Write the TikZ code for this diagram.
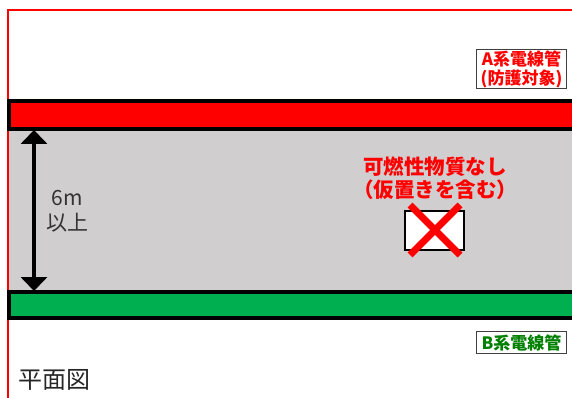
\documentclass[tikz,border=0pt]{standalone}
\usepackage{fontspec}
\setmainfont{Noto Sans CJK JP}
\usetikzlibrary{arrows.meta}
\definecolor{floorgray}{RGB}{208,206,206}
\definecolor{pipegreen}{RGB}{0,176,80}
\definecolor{labelgreen}{RGB}{0,128,0}
\tikzset{
  pipe/.style={draw=black,line width=4pt},
  tagbox/.style={draw=black!75,line width=1.2pt,fill=white,inner sep=0pt,font=\bfseries,align=center},
}
\begin{document}
\begin{tikzpicture}[x=1pt,y=-1pt]
\useasboundingbox (0,0) rectangle (572,398);
% Outline of the room
\draw[red,line width=2pt] (8,398) -- (8,10) -- (572,10);
% Floor between the two conduits
\fill[floorgray] (9,130) rectangle (572,291);
% Conduits
\draw[pipe,fill=red] (580,101) -- (9,101) -- (9,129) -- (580,129);
\draw[pipe,fill=pipegreen] (580,292) -- (9,292) -- (9,318) -- (580,318);
% Distance between them
\coordinate (spantop) at (34,130);
\coordinate (spanbot) at (34,291);
\draw[{Triangle[length=14pt,width=26pt]}-{Triangle[length=14pt,width=26pt]},line width=3.5pt] (spantop) -- (spanbot);
\node[text=black!80,font=\fontsize{21}{25}\selectfont,align=center] (spantext) at (67,211) {6m\\以上};
% Nothing combustible here
\node[text=red,font=\fontsize{20.5}{23}\selectfont\bfseries,align=center] (notice) at (435,178) {可燃性物質なし\\（仮置きを含む）};
\node[draw=black,line width=2.5pt,fill=white,minimum width=59pt,minimum height=39pt,inner sep=0pt] (stock) at (434.5,230.5) {};
\draw[red,line width=7pt] (410,205) -- (460,255);
\draw[red,line width=7pt] (460,205) -- (410,255);
% Labels
\node[tagbox,text=red,minimum width=90pt,minimum height=39pt,font=\fontsize{17}{19}\selectfont\bfseries] (tagA) at (521.5,69) {A系電線管\\(防護対象)};
\node[tagbox,text=labelgreen,minimum width=90pt,minimum height=22pt,font=\fontsize{17}{19}\selectfont\bfseries] (tagB) at (521.5,342.5) {B系電線管};
\node[text=black!85,font=\fontsize{24}{28}\selectfont] (plan) at (54,380) {平面図};
\end{tikzpicture}
\end{document}
